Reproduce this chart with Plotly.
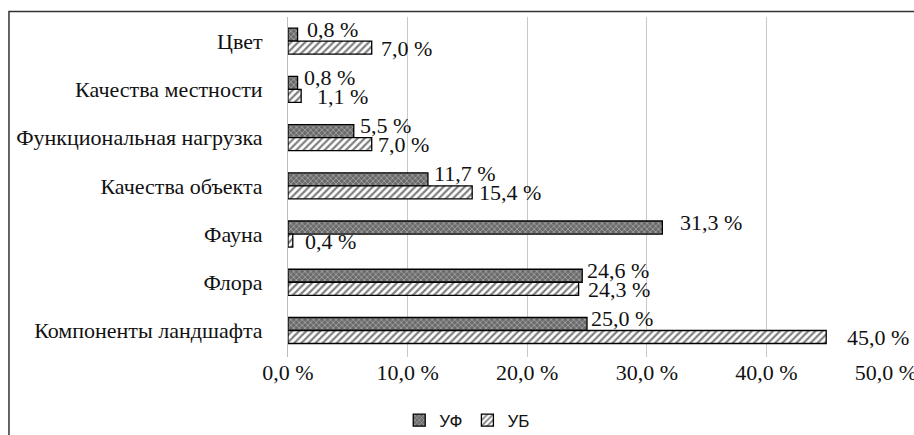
import plotly.graph_objects as go

categories = ["Цвет", "Качества местности", "Функциональная нагрузка",
              "Качества объекта", "Фауна", "Флора", "Компоненты ландшафта"]
uf_values = [0.8, 0.8, 5.5, 11.7, 31.3, 24.6, 25.0]
ub_values = [7.0, 1.1, 7.0, 15.4, 0.4, 24.3, 45.0]
x_tick_vals = [0, 10, 20, 30, 40, 50]
x_tick_text = ["0,0 %", "10,0 %", "20,0 %", "30,0 %", "40,0 %", "50,0 %"]

# label gaps (px) between bar end and value label, as placed in the original
uf_gap = [7, 4, 4, 4, 16, 3, 2]
ub_gap = [7, 14, 4, 5, 10, 7, 19]


def fmt(v):
    return ("%.1f" % v).replace(".", ",") + " %"


serif = "Liberation Serif, Tinos, Times New Roman, DejaVu Serif, serif"
sans = "Liberation Sans, Arial, sans-serif"
fsize = 22

fig = go.Figure()
fig.add_trace(go.Bar(
    y=categories, x=uf_values, orientation="h", name="УФ",
    marker=dict(color="#6a6a6a", line=dict(color="#000", width=1.3),
                pattern=dict(shape="x", fgcolor="#ececec", size=4, solidity=0.35)),
))
fig.add_trace(go.Bar(
    y=categories, x=ub_values, orientation="h", name="УБ",
    marker=dict(color="#ffffff", line=dict(color="#000", width=1.3),
                pattern=dict(shape="/", fgcolor="#000", bgcolor="#fff", size=5, solidity=0.45)),
))

annotations = []
for c, v, g in zip(categories, uf_values, uf_gap):
    annotations.append(dict(x=v, y=c, xref="x", yref="y", text=fmt(v), showarrow=False,
                            xanchor="left", yanchor="middle", xshift=g, yshift=12,
                            font=dict(family=serif, size=fsize, color="#111")))
for c, v, g in zip(categories, ub_values, ub_gap):
    annotations.append(dict(x=v, y=c, xref="x", yref="y", text=fmt(v), showarrow=False,
                            xanchor="left", yanchor="middle", xshift=g, yshift=-7,
                            font=dict(family=serif, size=fsize, color="#111")))

fig.update_layout(
    width=914, height=435,
    margin=dict(l=288, r=28, t=17, b=78, autoexpand=False),
    barmode="group", bargap=0.46, bargroupgap=0,
    plot_bgcolor="#fff", paper_bgcolor="#fff",
    font=dict(family=serif, size=fsize, color="#111"),
    showlegend=True,
    legend=dict(orientation="h", x=0.186, xanchor="left", y=-0.187, yanchor="middle",
                font=dict(family=sans, size=17, color="#111"),
                itemwidth=30, tracegroupgap=0),
    annotations=annotations,
    shapes=[dict(type="rect", xref="paper", yref="paper",
                 x0=-0.4666, x1=1.2, y0=1.0164, y1=-0.5,
                 line=dict(color="#333", width=1.5), fillcolor="rgba(0,0,0,0)")],
)
fig.update_xaxes(range=[0, 50], tickvals=x_tick_vals, ticktext=x_tick_text,
                 showgrid=True, gridcolor="#c8c8c8", gridwidth=1, automargin=False,
                 ticklabeloverflow="allow",
                 zeroline=False, showline=False, ticks="",
                 tickfont=dict(family=serif, size=fsize, color="#111"))
fig.update_yaxes(autorange="reversed", showline=True, linecolor="#bdbdbd",
                 linewidth=1, ticks="", showgrid=False, ticklabelstandoff=20,
                 automargin=False,
                 tickfont=dict(family=serif, size=fsize, color="#111"))

fig.write_html("out.html", config={"displayModeBar": False},
               post_script="document.body.style.margin='0px';")
